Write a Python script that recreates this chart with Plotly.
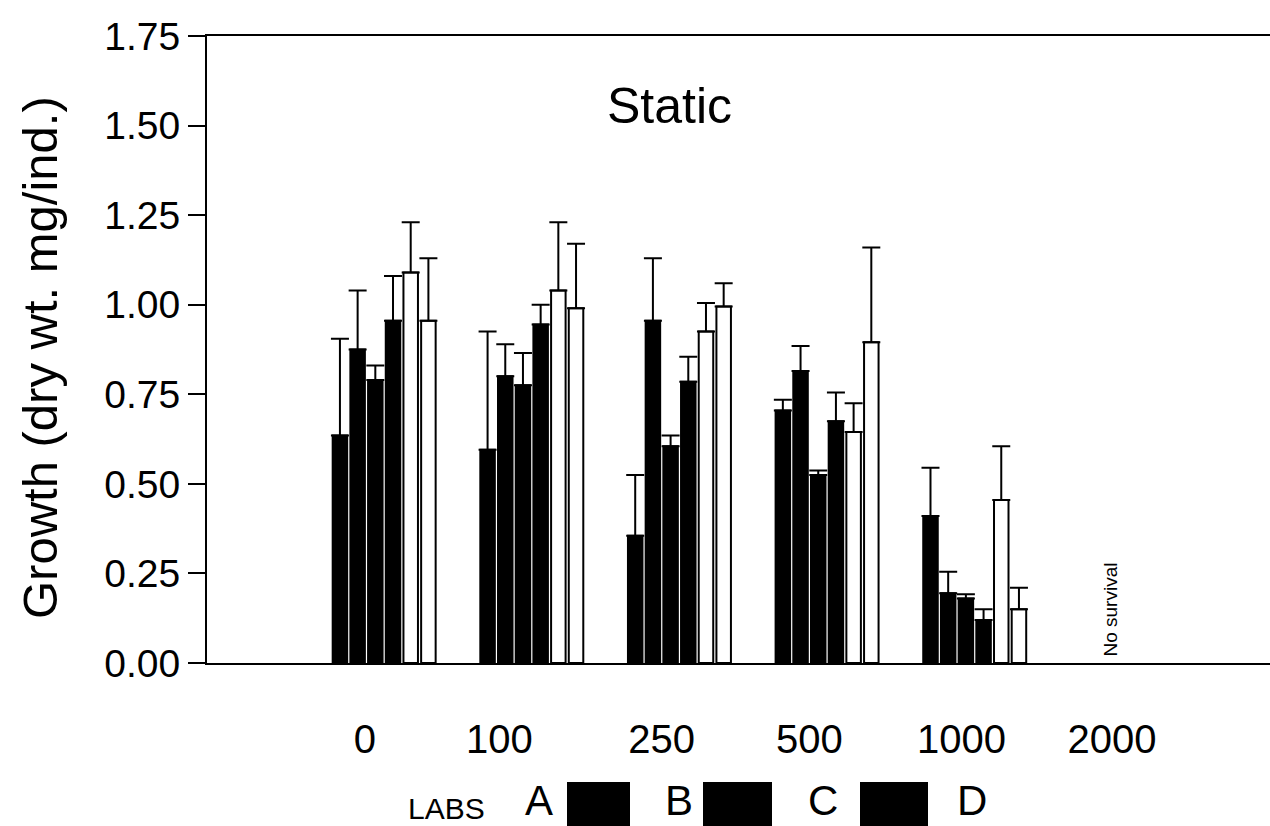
import plotly.graph_objects as go

# ---- data ----
concentrations = ["0", "100", "250", "500", "1000", "2000"]
series_names = ["A", "B", "C", "D", "E", "F"]
lab_A = [0.635, 0.595, 0.355, 0.705, 0.41, None]
lab_B = [0.875, 0.80, 0.955, 0.815, 0.195, None]
lab_C = [0.79, 0.775, 0.605, 0.525, 0.18, None]
lab_D = [0.955, 0.945, 0.785, 0.675, 0.12, None]
ref_E = [1.09, 1.04, 0.925, 0.645, 0.455, None]
ref_F = [0.955, 0.99, 0.995, 0.895, 0.15, None]
err_A = [0.27, 0.33, 0.17, 0.03, 0.135, 0]
err_B = [0.165, 0.09, 0.175, 0.07, 0.06, 0]
err_C = [0.04, 0.09, 0.03, 0.012, 0.012, 0]
err_D = [0.125, 0.055, 0.07, 0.08, 0.03, 0]
err_E = [0.14, 0.19, 0.08, 0.08, 0.15, 0]
err_F = [0.175, 0.18, 0.065, 0.265, 0.06, 0]
y_ticks = [0.0, 0.25, 0.5, 0.75, 1.0, 1.25, 1.5, 1.75]
y_tick_text = ["0.00", "0.25", "0.50", "0.75", "1.00", "1.25", "1.50", "1.75"]
legend_labels = ["A", "B", "C", "D"]

values = [lab_A, lab_B, lab_C, lab_D, ref_E, ref_F]
errors = [err_A, err_B, err_C, err_D, err_E, err_F]
fills = ["black", "black", "black", "black", "white", "white"]

FONT = "Liberation Sans, Arial, sans-serif"
xpos = list(range(len(concentrations)))
label_shift = [-0.13, -0.22, -0.12, -0.12, -0.09, -0.07]

fig = go.Figure()
for name, vals, errs, fill in zip(series_names, values, errors, fills):
    fig.add_trace(go.Bar(
        x=xpos, y=vals, name=name, showlegend=False,
        marker=dict(color=fill, line=dict(color="black", width=2)),
        error_y=dict(type="data", symmetric=False, array=errs,
                     arrayminus=[0] * len(errs), color="black",
                     thickness=2, width=9),
    ))

# geometry helpers (pixels -> paper)
L, R, T, B = 207, 0, 36, 163
W, H = 1270 - L - R, 826 - T - B
def px(X):
    return (X - L) / W
def py(Y):
    return (826 - B - Y) / H

fig.update_layout(
    width=1270, height=826,
    margin=dict(l=L, r=R, t=T, b=B, pad=0),
    paper_bgcolor="white", plot_bgcolor="white",
    barmode="group", bargap=0.281, bargroupgap=0.18,
    font=dict(family=FONT, color="black"),
    xaxis=dict(
        range=[-1.2, 6.0], showgrid=False, zeroline=False,
        showline=True, mirror=True, linecolor="black", linewidth=2,
        tickvals=[i + s for i, s in zip(xpos, label_shift)],
        ticktext=concentrations,
        ticks="", tickfont=dict(size=40, family=FONT),
        ticklabelstandoff=40,
    ),
    yaxis=dict(
        range=[0, 1.75], showgrid=False, zeroline=False,
        showline=True, linecolor="black", linewidth=2,
        tickvals=y_ticks, ticktext=y_tick_text,
        ticks="outside", ticklen=17, tickwidth=1.5, tickcolor="black",
        tickfont=dict(size=39, family=FONT),
    ),
)

annotations = [
    dict(text="Growth (dry wt. mg/ind.)", xref="paper", yref="paper",
         x=px(40), y=py(358), textangle=-90, showarrow=False,
         font=dict(size=49, family=FONT), xanchor="center", yanchor="middle"),
    dict(text="Static", xref="paper", yref="paper", x=px(669), y=py(106),
         showarrow=False, font=dict(size=50, family=FONT),
         xanchor="center", yanchor="middle"),
    dict(text="No survival", xref="x", yref="y", x=4.92, y=0.148,
         textangle=-90, showarrow=False, font=dict(size=19, family=FONT),
         xanchor="center", yanchor="middle"),
    dict(text="LABS", xref="paper", yref="paper", x=px(446), y=py(808),
         showarrow=False, font=dict(size=30, family=FONT),
         xanchor="center", yanchor="middle"),
]
letter_x = [539, 679, 823, 972]
square_x = [(567, 630), (703, 772), (860, 928)]
for lab, lx in zip(legend_labels, letter_x):
    annotations.append(dict(text=lab, xref="paper", yref="paper", x=px(lx),
                            y=py(800), showarrow=False,
                            font=dict(size=42, family=FONT),
                            xanchor="center", yanchor="middle"))
shapes = []
for x0, x1 in square_x:
    shapes.append(dict(type="rect", xref="paper", yref="paper",
                       x0=px(x0), x1=px(x1), y0=py(830), y1=py(782),
                       fillcolor="black", line=dict(width=0), layer="above"))
fig.update_layout(annotations=annotations, shapes=shapes)

fig.write_html("out.html")
